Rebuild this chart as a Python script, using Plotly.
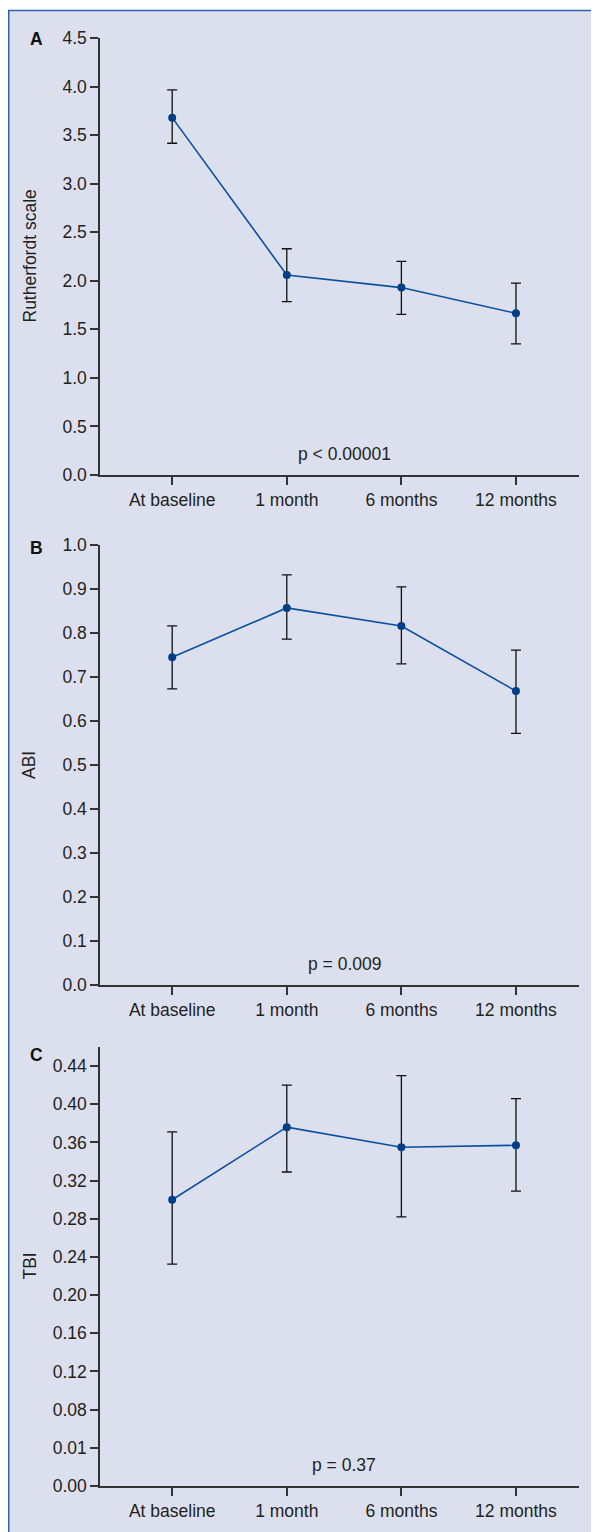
import plotly.graph_objects as go

categories = ["At baseline", "1 month", "6 months", "12 months"]

rutherford_mean = [3.68, 2.06, 1.93, 1.665]
rutherford_upper = [3.965, 2.33, 2.20, 1.975]
rutherford_lower = [3.416, 1.785, 1.655, 1.35]

abi_mean = [0.745, 0.857, 0.816, 0.668]
abi_upper = [0.816, 0.932, 0.905, 0.761]
abi_lower = [0.673, 0.786, 0.730, 0.572]

tbi_mean = [0.300, 0.376, 0.355, 0.357]
tbi_upper = [0.371, 0.420, 0.430, 0.406]
tbi_lower = [0.2325, 0.329, 0.282, 0.309]

a_ticks = [0.0, 0.5, 1.0, 1.5, 2.0, 2.5, 3.0, 3.5, 4.0, 4.5]
a_ticktext = ["0.0", "0.5", "1.0", "1.5", "2.0", "2.5", "3.0", "3.5", "4.0", "4.5"]
b_ticks = [0.0, 0.1, 0.2, 0.3, 0.4, 0.5, 0.6, 0.7, 0.8, 0.9, 1.0]
b_ticktext = ["0.0", "0.1", "0.2", "0.3", "0.4", "0.5", "0.6", "0.7", "0.8", "0.9", "1.0"]
c_ticks = [0.00, 0.04, 0.08, 0.12, 0.16, 0.20, 0.24, 0.28, 0.32, 0.36, 0.40, 0.44]
c_ticktext = ["0.00", "0.01", "0.08", "0.12", "0.16", "0.20", "0.24", "0.28", "0.32", "0.36", "0.40", "0.44"]

panels = [
    ("A", "Rutherfordt scale", rutherford_mean, rutherford_upper, rutherford_lower,
     a_ticks, a_ticktext, [0, 4.5], "p < 0.00001"),
    ("B", "ABI", abi_mean, abi_upper, abi_lower, b_ticks, b_ticktext, [0, 1.0], "p = 0.009"),
    ("C", "TBI", tbi_mean, tbi_upper, tbi_lower, c_ticks, c_ticktext, [0, 0.46], "p = 0.37"),
]

# page body has an 8px margin; figure coordinates are shifted accordingly
OFF = 8
W, H = 599 - OFF, 1532 - OFF
boxes = [(38 - OFF, 475 - OFF), (545 - OFF, 985 - OFF), (1047 - OFF, 1486 - OFF)]
letter_y = [39 - OFF, 548 - OFF, 1055 - OFF]
x_left, x_right = 100 - OFF, 579 - OFF

FONT = "Liberation Sans, Arial, Helvetica, sans-serif"
FS = 17.5
TXT = "#231f20"
LINE_BLUE = "#0b4f9e"
MARK_BLUE = "#003f87"
AXIS_COL = "#333333"

fig = go.Figure()
layout = dict(
    width=W, height=H,
    margin=dict(l=0, r=0, t=0, b=0, pad=0),
    paper_bgcolor="white",
    plot_bgcolor="white",
    showlegend=False,
    font=dict(family=FONT, size=FS, color=TXT),
    shapes=[dict(type="rect", xref="paper", yref="paper",
                 x0=0.75 / W, x1=1.05, y0=-0.05, y1=1 - 2.5 / H,
                 fillcolor="#dcdfed", line=dict(color="#2f63ad", width=1.5),
                 layer="below")],
    annotations=[],
)

for i, (letter, title, mean, up, lo, tv, tt, yr, ptxt) in enumerate(panels):
    n = "" if i == 0 else str(i + 1)
    xa, ya = "x" + n, "y" + n
    top, bot = boxes[i]
    fig.add_trace(go.Scatter(
        x=categories, y=mean, xaxis=xa, yaxis=ya,
        mode="lines+markers",
        line=dict(color=LINE_BLUE, width=1.6),
        marker=dict(color=MARK_BLUE, size=8),
        error_y=dict(type="data", symmetric=False,
                     array=[u - m for u, m in zip(up, mean)],
                     arrayminus=[m - l for m, l in zip(mean, lo)],
                     color="#111111", thickness=1.3, width=5),
    ))
    layout["xaxis" + n] = dict(
        domain=[x_left / W, x_right / W], anchor=ya, automargin=False,
        type="category", categoryorder="array", categoryarray=categories,
        range=[-0.63, 3.55], showgrid=False, zeroline=False,
        showline=True, linecolor=AXIS_COL, linewidth=1.5,
        ticks="outside", ticklen=8, tickwidth=1.5, tickcolor=AXIS_COL,
        tickfont=dict(family=FONT, size=FS, color=TXT),
        fixedrange=True,
    )
    layout["yaxis" + n] = dict(
        domain=[1 - bot / H, 1 - top / H], anchor=xa, automargin=False,
        range=yr, tickvals=tv, ticktext=tt, showgrid=False, zeroline=False,
        showline=True, linecolor=AXIS_COL, linewidth=1.5,
        ticks="outside", ticklen=8, tickwidth=1.5, tickcolor=AXIS_COL,
        tickfont=dict(family=FONT, size=FS, color=TXT),
        fixedrange=True,
    )
    layout["annotations"].append(dict(
        xref=xa, yref=ya + " domain", x=1.5, y=0.048, text=ptxt, showarrow=False,
        xanchor="center", yanchor="middle", font=dict(family=FONT, size=FS, color=TXT)))
    layout["annotations"].append(dict(
        xref="paper", yref="paper", x=(29 - OFF) / W, y=1 - (top + bot) / 2 / H, text=title,
        textangle=-90, showarrow=False, xanchor="center", yanchor="middle",
        font=dict(family=FONT, size=FS, color=TXT)))
    layout["annotations"].append(dict(
        xref="paper", yref="paper", x=(36 - OFF) / W, y=1 - letter_y[i] / H,
        text="<b>" + letter + "</b>",
        showarrow=False, xanchor="center", yanchor="middle",
        font=dict(family=FONT, size=FS, color="#111111")))

fig.update_layout(**layout)
fig.write_html("out.html")
